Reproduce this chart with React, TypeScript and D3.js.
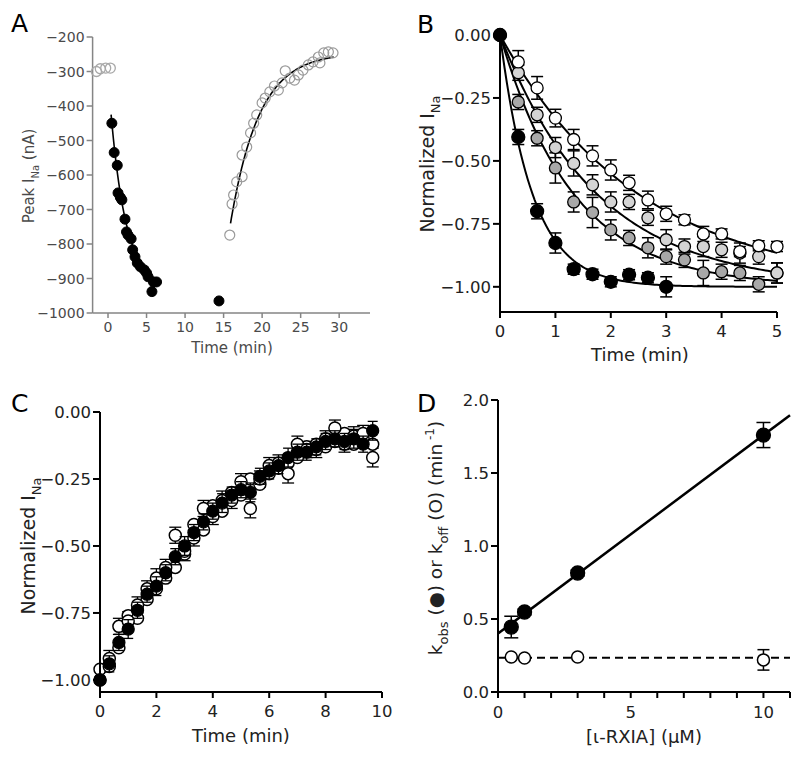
import React from 'react';
import * as d3 from 'd3';

const FONT = '"DejaVu Sans", Arial, sans-serif';

// ---------- Panel A data ----------
const aBaselineT = [-1.5, -1.0, -0.3, 0.3];
const aBaselineV = [-300, -292, -290, -290];
const aBlockT = [0.5, 0.8, 1.2, 1.3, 1.6, 1.8, 2.2, 2.4, 2.6, 3.0, 3.2, 3.5, 3.8, 4.2, 4.7, 5.0, 5.2, 5.7, 5.9, 6.3, 14.4];
const aBlockV = [-450, -535, -572, -652, -665, -672, -728, -765, -774, -785, -817, -837, -855, -866, -875, -884, -895, -938, -910, -910, -965];
const aWashT = [15.8, 16.1, 16.3, 16.7, 17.4, 17.4, 18.0, 18.5, 18.9, 19.3, 20.0, 20.4, 21.0, 21.6, 22.1, 22.6, 23.0, 23.6, 24.2, 24.7, 25.3, 26.0, 26.6, 27.3, 27.5, 28.0, 28.6, 29.2];
const aWashV = [-774, -684, -658, -620, -605, -542, -519, -478, -450, -426, -391, -377, -359, -342, -354, -333, -298, -319, -325, -310, -296, -281, -272, -258, -275, -246, -243, -246];
const aYTicks = [-1000, -900, -800, -700, -600, -500, -400, -300, -200];
const aXTicks = [0, 5, 10, 15, 20, 25, 30];
// exponential fit parameters
const aOnFit = { t0: 0.4, t1: 6.3, y0: -425, plateau: -930, k: 0.5 };
const aOffFit = { t0: 15.9, t1: 29.3, y0: -740, plateau: -245, k: 0.27 };

// ---------- Panel B data ----------
const bT = [0, 0.33, 0.67, 1, 1.33, 1.67, 2, 2.33, 2.67, 3, 3.33, 3.67, 4, 4.33, 4.67, 5];
const bBlack = [0, -0.405, -0.70, -0.826, -0.93, -0.95, -0.98, -0.952, -0.964, -1.0];
const bBlackErr = [0, 0.03, 0.03, 0.04, 0.02, 0.02, 0.02, 0.02, 0.02, 0.04];
const bOpen = [0, -0.107, -0.21, -0.33, -0.415, -0.48, -0.536, -0.587, -0.655, -0.71, -0.734, -0.79, -0.79, -0.86, -0.837, -0.84];
const bOpenErr = [0, 0.045, 0.045, 0.035, 0.04, 0.04, 0.04, 0.03, 0.035, 0.03, 0.02, 0.03, 0.02, 0.02, 0.02, 0.02];
const bLight = [0, -0.15, -0.317, -0.447, -0.51, -0.595, -0.663, -0.663, -0.726, -0.813, -0.84, -0.84, -0.853, -0.866, -0.88, -0.945];
const bLightErr = [0, 0.03, 0.03, 0.04, 0.05, 0.04, 0.04, 0.03, 0.03, 0.04, 0.03, 0.04, 0.03, 0.04, 0.03, 0.04];
const bDark = [0, -0.266, -0.41, -0.528, -0.663, -0.705, -0.774, -0.806, -0.845, -0.88, -0.893, -0.945, -0.94, -0.945, -0.99, -0.945];
const bDarkErr = [0, 0.03, 0.03, 0.06, 0.04, 0.06, 0.04, 0.03, 0.04, 0.03, 0.03, 0.05, 0.03, 0.03, 0.03, 0.04];
const bFitK = [0.4, 0.57, 0.75, 1.7];
const bYTicks = [0, -0.25, -0.5, -0.75, -1.0];
const bXTicks = [0, 1, 2, 3, 4, 5];

// ---------- Panel C data ----------
const cT = [0, 0.33, 0.67, 1, 1.33, 1.67, 2, 2.33, 2.67, 3, 3.33, 3.67, 4, 4.33, 4.67, 5, 5.33, 5.67, 6, 6.33, 6.67, 7, 7.33, 7.67, 8, 8.33, 8.67, 9, 9.33, 9.67];
const cFilled = [-1.00, -0.94, -0.86, -0.81, -0.74, -0.68, -0.65, -0.60, -0.54, -0.50, -0.45, -0.41, -0.37, -0.34, -0.31, -0.29, -0.30, -0.24, -0.22, -0.20, -0.17, -0.15, -0.15, -0.13, -0.11, -0.10, -0.11, -0.10, -0.12, -0.07];
const cOpen1 = [-1.00, -0.92, -0.80, -0.78, -0.72, -0.66, -0.62, -0.58, -0.46, -0.52, -0.47, -0.36, -0.39, -0.33, -0.33, -0.26, -0.36, -0.25, -0.20, -0.19, -0.23, -0.12, -0.14, -0.14, -0.10, -0.06, -0.12, -0.09, -0.08, -0.17];
const cOpen2 = [-0.96, -0.95, -0.88, -0.76, -0.77, -0.70, -0.66, -0.62, -0.58, -0.53, -0.42, -0.44, -0.35, -0.37, -0.30, -0.31, -0.25, -0.27, -0.23, -0.21, -0.19, -0.17, -0.13, -0.12, -0.13, -0.11, -0.08, -0.12, -0.10, -0.12];
const cErr = [0, 0.03, 0.03, 0.035, 0.03, 0.03, 0.035, 0.03, 0.03, 0.035, 0.03, 0.03, 0.03, 0.035, 0.03, 0.03, 0.035, 0.03, 0.03, 0.03, 0.035, 0.03, 0.03, 0.03, 0.03, 0.03, 0.03, 0.035, 0.03, 0.035];
const cYTicks = [0, -0.25, -0.5, -0.75, -1.0];
const cXTicks = [0, 2, 4, 6, 8, 10];

// ---------- Panel D data ----------
const dConc = [0.5, 1, 3, 10];
const dKobs = [0.445, 0.548, 0.815, 1.76];
const dKobsErr = [0.074, 0.02, 0.02, 0.086];
const dKoff = [0.24, 0.233, 0.24, 0.22];
const dKoffErr = [0.01, 0.01, 0.01, 0.07];
const dOnLine = { intercept: 0.40, slope: 0.136 };
const dOffLine = { value: 0.235 };
const dYTicks = [0, 0.5, 1.0, 1.5, 2.0];
const dXMajor = [0, 5, 10];
const dXMinor = [1, 2, 3, 4, 6, 7, 8, 9, 11];

type Lin = d3.ScaleLinear<number, number>;

function expCurve(t0: number, t1: number, y0: number, plateau: number, k: number) {
  return d3.range(t0, t1 + 0.001, (t1 - t0) / 120).map((t) => [t, plateau + (y0 - plateau) * Math.exp(-k * (t - t0))] as [number, number]);
}

function ErrBars({ xs, ys, es, x, y, cap, sw = 1.5 }: { xs: number[]; ys: number[]; es: number[]; x: Lin; y: Lin; cap: number; sw?: number }) {
  return (
    <g stroke="#000" strokeWidth={sw}>
      {ys.map((v, i) => {
        const e = es[i];
        if (!e) return null;
        const cx = x(xs[i]);
        const y1 = y(v - e), y2 = y(v + e);
        return (
          <g key={i}>
            <line x1={cx} x2={cx} y1={y1} y2={y2} />
            <line x1={cx - cap} x2={cx + cap} y1={y1} y2={y1} />
            <line x1={cx - cap} x2={cx + cap} y1={y2} y2={y2} />
          </g>
        );
      })}
    </g>
  );
}

function Dots({ xs, ys, x, y, r, fill, stroke = '#000', sw = 1.3 }: { xs: number[]; ys: number[]; x: Lin; y: Lin; r: number; fill: string; stroke?: string; sw?: number }) {
  return (
    <g>
      {ys.map((v, i) => (
        <circle key={i} cx={x(xs[i])} cy={y(v)} r={r} fill={fill} stroke={stroke} strokeWidth={sw} />
      ))}
    </g>
  );
}

function YAxis({ y, ticks, x0, fmt, color, sw, len, fs, labelColor }: { y: Lin; ticks: number[]; x0: number; fmt: (v: number) => string; color: string; sw: number; len: number; fs: number; labelColor: string }) {
  const [d0, d1] = y.domain();
  return (
    <g>
      <line x1={x0} x2={x0} y1={y(d0)} y2={y(d1)} stroke={color} strokeWidth={sw} />
      {ticks.map((t) => (
        <g key={t}>
          <line x1={x0 - len} x2={x0} y1={y(t)} y2={y(t)} stroke={color} strokeWidth={sw} />
          <text x={x0 - len - 2} y={y(t)} dy="0.36em" textAnchor="end" fontSize={fs} fill={labelColor} fontFamily={FONT}>
            {fmt(t)}
          </text>
        </g>
      ))}
    </g>
  );
}

function XAxis({ x, ticks, y0, fmt, color, sw, len, fs, labelColor, labelY }: { x: Lin; ticks: number[]; y0: number; fmt: (v: number) => string; color: string; sw: number; len: number; fs: number; labelColor: string; labelY: number }) {
  const [d0, d1] = x.domain();
  return (
    <g>
      <line x1={x(d0)} x2={x(d1)} y1={y0} y2={y0} stroke={color} strokeWidth={sw} />
      {ticks.map((t) => (
        <g key={t}>
          <line x1={x(t)} x2={x(t)} y1={y0} y2={y0 + len} stroke={color} strokeWidth={sw} />
          <text x={x(t)} y={labelY} textAnchor="middle" fontSize={fs} fill={labelColor} fontFamily={FONT}>
            {fmt(t)}
          </text>
        </g>
      ))}
    </g>
  );
}

export default function App() {
  const ax = d3.scaleLinear().domain([-2, 34]).range([92.6, 370]);
  const ay = d3.scaleLinear().domain([-1000, -200]).range([313, 37]);
  const bx = d3.scaleLinear().domain([0, 5]).range([500, 777]);
  const by = d3.scaleLinear().domain([-1.1, 0]).range([312, 35]);
  const cx = d3.scaleLinear().domain([0, 10]).range([100, 382]);
  const cy = d3.scaleLinear().domain([-1.045, 0]).range([692, 412]);
  const dx = d3.scaleLinear().domain([0, 11]).range([498, 790]);
  const dy = d3.scaleLinear().domain([0, 2]).range([692, 400]);

  const lineA = d3.line<[number, number]>().x((d) => ax(d[0])).y((d) => ay(d[1]));
  const lineB = d3.line<[number, number]>().x((d) => bx(d[0])).y((d) => by(d[1]));
  const lineD = d3.line<[number, number]>().x((d) => dx(d[0])).y((d) => dy(d[1]));

  const f2 = d3.format('.2f');
  const f1 = d3.format('.1f');
  const fd = d3.format('d');

  const grayA = '#858585';
  const txtA = '#4a4a4a';

  return (
    <svg width={800} height={762} style={{ position: 'absolute', left: 0, top: 0, display: 'block', background: '#fff' }} fontFamily={FONT}>
      <rect x={0} y={0} width={800} height={762} fill="#fff" />

      {/* ================= Panel A ================= */}
      <text x={11} y={32} fontSize={25}>A</text>
      <YAxis y={ay} ticks={aYTicks} x0={92.6} fmt={fd} color={grayA} sw={1.5} len={6} fs={14} labelColor={txtA} />
      <XAxis x={ax} ticks={aXTicks} y0={313} fmt={fd} color={grayA} sw={1.5} len={5} fs={14} labelColor={txtA} labelY={332} />
      <text x={232} y={353} textAnchor="middle" fontSize={15} fill={txtA}>Time (min)</text>
      <text transform="translate(34,176) rotate(-90)" textAnchor="middle" fontSize={15} fill={txtA}>
        Peak I<tspan fontSize={10} dy={5}>Na</tspan><tspan dy={-5}>  (nA)</tspan>
      </text>
      <path d={lineA(expCurve(aOnFit.t0, aOnFit.t1, aOnFit.y0, aOnFit.plateau, aOnFit.k)) || ''} fill="none" stroke="#000" strokeWidth={1.6} />
      <path d={lineA(expCurve(aOffFit.t0, aOffFit.t1, aOffFit.y0, aOffFit.plateau, aOffFit.k)) || ''} fill="none" stroke="#000" strokeWidth={1.6} />
      <Dots xs={aBaselineT} ys={aBaselineV} x={ax} y={ay} r={5} fill="none" stroke="#a8a8a8" sw={1.3} />
      <Dots xs={aWashT} ys={aWashV} x={ax} y={ay} r={5} fill="none" stroke="#9a9a9a" sw={1.2} />
      <Dots xs={aBlockT} ys={aBlockV} x={ax} y={ay} r={5} fill="#000" stroke="#000" sw={1} />

      {/* ================= Panel B ================= */}
      <text x={417} y={33} fontSize={25}>B</text>
      {bFitK.map((k, i) => (
        <path key={i} d={lineB(expCurve(0, 5, 0, -1, k)) || ''} fill="none" stroke="#000" strokeWidth={2} />
      ))}
      <ErrBars xs={bT} ys={bDark} es={bDarkErr} x={bx} y={by} cap={6} />
      <ErrBars xs={bT} ys={bLight} es={bLightErr} x={bx} y={by} cap={6} />
      <ErrBars xs={bT} ys={bOpen} es={bOpenErr} x={bx} y={by} cap={6} />
      <Dots xs={bT} ys={bDark} x={bx} y={by} r={6} fill="#a8a8a8" />
      <Dots xs={bT} ys={bLight} x={bx} y={by} r={6} fill="#d4d4d4" />
      <Dots xs={bT} ys={bOpen} x={bx} y={by} r={6} fill="#fff" />
      <ErrBars xs={bT} ys={bBlack} es={bBlackErr} x={bx} y={by} cap={6} />
      <Dots xs={bT} ys={bBlack} x={bx} y={by} r={6.5} fill="#000" />
      <YAxis y={by} ticks={bYTicks} x0={500} fmt={f2} color="#000" sw={2} len={7} fs={16.5} labelColor="#222" />
      <XAxis x={bx} ticks={bXTicks} y0={312} fmt={fd} color="#000" sw={2} len={6} fs={16.5} labelColor="#222" labelY={337} />
      <text x={640} y={361} textAnchor="middle" fontSize={18} fill="#222">Time (min)</text>
      <text transform="translate(434,164) rotate(-90)" textAnchor="middle" fontSize={19} fill="#222">
        Normalized I<tspan fontSize={13} dy={6}>Na</tspan>
      </text>

      {/* ================= Panel C ================= */}
      <text x={11} y={412} fontSize={25}>C</text>
      <ErrBars xs={cT} ys={cOpen1} es={cErr} x={cx} y={cy} cap={6} sw={1.3} />
      <Dots xs={cT} ys={cOpen2} x={cx} y={cy} r={6} fill="#fff" sw={1.5} />
      <Dots xs={cT} ys={cOpen1} x={cx} y={cy} r={6} fill="#fff" sw={1.5} />
      <ErrBars xs={cT} ys={cFilled} es={cErr} x={cx} y={cy} cap={5} sw={1.3} />
      <Dots xs={cT} ys={cFilled} x={cx} y={cy} r={6} fill="#000" />
      <YAxis y={cy} ticks={cYTicks} x0={100} fmt={f2} color="#000" sw={2} len={7} fs={16.5} labelColor="#222" />
      <XAxis x={cx} ticks={cXTicks} y0={692} fmt={fd} color="#000" sw={2} len={6} fs={16.5} labelColor="#222" labelY={717} />
      <text x={241} y={742} textAnchor="middle" fontSize={18} fill="#222">Time (min)</text>
      <text transform="translate(35,546) rotate(-90)" textAnchor="middle" fontSize={19} fill="#222">
        Normalized I<tspan fontSize={13} dy={6}>Na</tspan>
      </text>

      {/* ================= Panel D ================= */}
      <text x={417} y={412} fontSize={25}>D</text>
      <path d={lineD([[0, dOnLine.intercept], [11, dOnLine.intercept + dOnLine.slope * 11]]) || ''} stroke="#000" strokeWidth={2.5} fill="none" />
      <path d={lineD([[0, dOffLine.value], [11, dOffLine.value]]) || ''} stroke="#000" strokeWidth={2} strokeDasharray="8,5" fill="none" />
      <ErrBars xs={dConc} ys={dKoff} es={dKoffErr} x={dx} y={dy} cap={6} />
      <Dots xs={dConc} ys={dKoff} x={dx} y={dy} r={6} fill="#fff" sw={1.5} />
      <ErrBars xs={dConc} ys={dKobs} es={dKobsErr} x={dx} y={dy} cap={7} />
      <Dots xs={dConc} ys={dKobs} x={dx} y={dy} r={7} fill="#000" />
      <YAxis y={dy} ticks={dYTicks} x0={498} fmt={f1} color="#000" sw={2} len={7} fs={16.5} labelColor="#222" />
      <XAxis x={dx} ticks={dXMajor} y0={692} fmt={fd} color="#000" sw={2} len={6} fs={16.5} labelColor="#222" labelY={718} />
      {dXMinor.map((t) => (
        <line key={t} x1={dx(t)} x2={dx(t)} y1={692} y2={698} stroke="#000" strokeWidth={2} />
      ))}
      <text x={644} y={743} textAnchor="middle" fontSize={18} fill="#222">[ι-RXIA] (μM)</text>
      <text transform="translate(442,538) rotate(-90)" textAnchor="middle" fontSize={18.5} fill="#222">
        k<tspan fontSize={13} dy={6}>obs</tspan><tspan dy={-6}> (●) or k</tspan><tspan fontSize={13} dy={6}>off</tspan><tspan dy={-6}> (O) (min</tspan><tspan fontSize={12} dy={-8}> -1</tspan><tspan dy={8}>)</tspan>
      </text>
    </svg>
  );
}
